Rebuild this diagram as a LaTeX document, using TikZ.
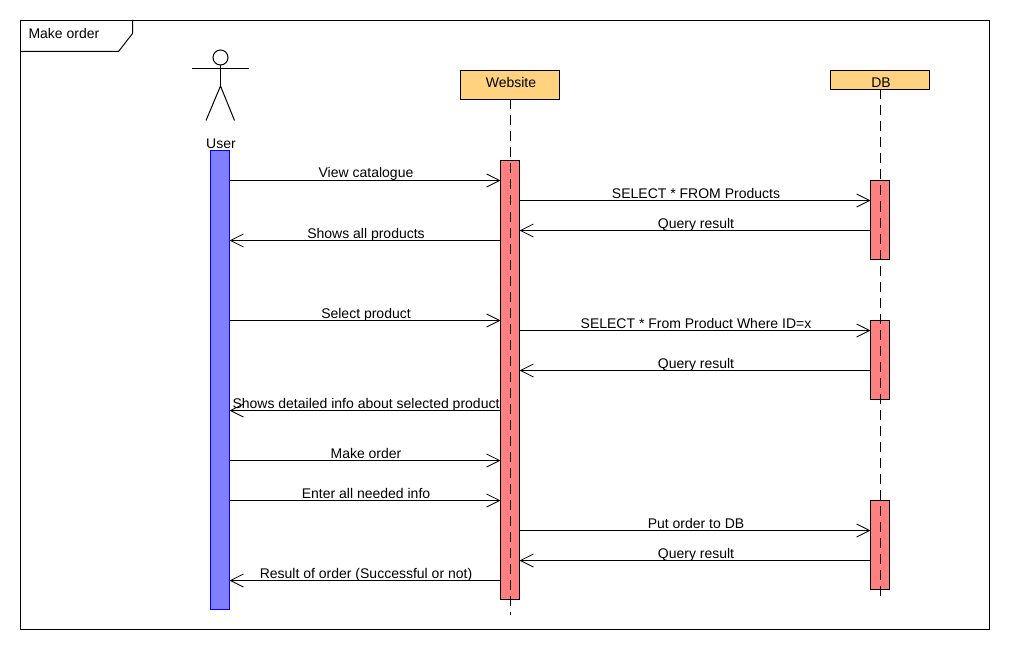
\documentclass[tikz,border=0pt]{standalone}
\usepackage{xcolor}
\usepackage{fontspec}
\setmainfont{Liberation Sans}
\usetikzlibrary{arrows.meta,positioning}
\definecolor{headfill}{HTML}{FFD27F}
\definecolor{barfill}{HTML}{FF8080}
\definecolor{userfill}{HTML}{8080FF}

\begin{document}
\begin{tikzpicture}[
    x=1pt,y=-1pt,
    line width=1pt,
    font=\fontsize{14}{16}\selectfont,
    frame/.style={draw=black,minimum width=969pt,minimum height=609pt,inner sep=0pt},
    lifehead/.style={draw=black,fill=headfill,minimum width=99pt,inner sep=0pt,align=center},
    actbar/.style={draw=black,fill=barfill,minimum width=19pt,inner sep=0pt,outer sep=0pt},
    userbar/.style={draw=blue,fill=userfill,minimum width=19pt,inner sep=0pt,outer sep=0pt},
    lifeline/.style={draw=black,dash pattern=on 10pt off 6pt},
    msg/.style={draw=black,-{Straight Barb[length=13pt,width=13pt,line width=0.8pt]}},
    lbl/.style={inner sep=0pt,text height=10pt,text depth=2pt,above=0pt,xshift=1pt}
  ]
    \useasboundingbox (0,0) rectangle (1010,650);

    \node[frame] (frame) at (505,325) {};
    \draw (frame.north west -| 132.5,0) -- (132.5,33.5) -- (118.5,51.5) -- (frame.west |- 0,51.5);
    \node[inner sep=0pt,anchor=west] (title) at (28,33) {Make order};

    % actor
    \node[draw=black,circle,minimum size=15pt,inner sep=0pt] (head) at (220.5,57.5) {};
    \coordinate (hip) at (220.5,86);
    \draw (head) -- (hip);
    \coordinate (armleft) at (192,68.5);
    \coordinate (armright) at (249,68.5);
    \draw (armleft) -- (armright);
    \coordinate (footleft) at (206,120.5);
    \coordinate (footright) at (234.5,120.5);
    \draw (footleft) -- (hip) -- (footright);
    \node[inner sep=0pt] (user) at (221,144) {User};

    \node[userbar,minimum height=458.5pt] (userbox) at (220,379.75) {};

    \node[lifehead,minimum height=29pt,text height=10pt,text depth=4pt] (website) at (510,85) {\hspace{2pt}Website};
    \node[lifehead,minimum height=19pt] (db) at (880,80) {};
    \node[inner sep=0pt] (dbname) at (881,83) {DB};

    \node[actbar,minimum height=439pt] (webbox) at (510,380) {};
    \node[actbar,minimum height=79pt] (dbone) at (880,220) {};
    \node[actbar,minimum height=79pt] (dbtwo) at (880,360) {};
    \node[actbar,minimum height=89pt] (dbthree) at (880,545) {};

    \coordinate (webend) at (510.5,615);
    \coordinate (dbend) at (880.5,600);
    \draw[lifeline] (510.5,99.5) -- (webend);
    \draw[lifeline] (880.5,89.5) -- (dbend);

    \draw[msg] (userbox.east |- 0,180.5) -- node[lbl] (viewcat) {View catalogue} (webbox.west |- 0,180.5);
    \draw[msg] (webbox.east |- 0,200.5) -- node[lbl] (selectall) {SELECT * FROM Products} (dbone.west |- 0,200.5);
    \draw[msg] (dbone.west |- 0,230.5) -- node[lbl] (resultone) {Query result} (webbox.east |- 0,230.5);
    \draw[msg] (webbox.west |- 0,240.5) -- node[lbl] (showall) {Shows all products} (userbox.east |- 0,240.5);

    \draw[msg] (userbox.east |- 0,320.5) -- node[lbl] (selectprod) {Select product} (webbox.west |- 0,320.5);
    \draw[msg] (webbox.east |- 0,330.5) -- node[lbl] (selectid) {SELECT * From Product Where ID=x} (dbtwo.west |- 0,330.5);
    \draw[msg] (dbtwo.west |- 0,370.5) -- node[lbl] (resulttwo) {Query result} (webbox.east |- 0,370.5);
    \draw[msg] (webbox.west |- 0,410.5) -- node[lbl] (showinfo) {Shows detailed info about selected product} (userbox.east |- 0,410.5);

    \draw[msg] (userbox.east |- 0,460.5) -- node[lbl] (makeorder) {Make order} (webbox.west |- 0,460.5);
    \draw[msg] (userbox.east |- 0,500.5) -- node[lbl] (enterinfo) {Enter all needed info} (webbox.west |- 0,500.5);
    \draw[msg] (webbox.east |- 0,530.5) -- node[lbl] (putorder) {Put order to DB} (dbthree.west |- 0,530.5);
    \draw[msg] (dbthree.west |- 0,560.5) -- node[lbl] (resultthree) {Query result} (webbox.east |- 0,560.5);
    \draw[msg] (webbox.west |- 0,580.5) -- node[lbl] (orderresult) {Result of order (Successful or not)} (userbox.east |- 0,580.5);
  \end{tikzpicture}
\end{document}
